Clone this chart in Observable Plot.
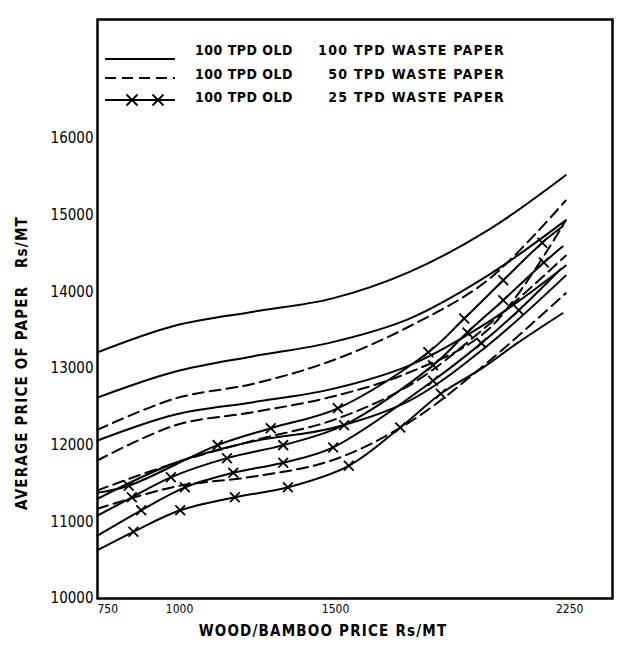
<!DOCTYPE html>
<html><head><meta charset="utf-8">
<script src="https://cdn.jsdelivr.net/npm/d3@7"></script>
<script src="https://cdn.jsdelivr.net/npm/@observablehq/plot@0.6"></script>
<style>
body{margin:0;background:#fff;}
#chart{position:relative;width:630px;height:648px;}
#legend{position:absolute;left:0;top:0;}
</style></head><body><div id="chart"></div>
<script>
const FONT = "'DejaVu Sans Condensed','DejaVu Sans',sans-serif";

// x positions shared by the solid and dashed curves (Rs/MT)
const xGrid = [750, 1000, 1250, 1500, 1750, 2000, 2250];

// solid curves: 100 TPD OLD + 100 TPD WASTE PAPER
const solidA = [13210, 13560, 13740, 13910, 14260, 14800, 15520];
const solidB = [12620, 12960, 13160, 13340, 13650, 14210, 14930];
const solidC = [12060, 12400, 12560, 12730, 13040, 13600, 14340];
const solidD = [11300, 11770, 12050, 12220, 12580, 13300, 14210];

// dashed curves: 100 TPD OLD + 50 TPD WASTE PAPER
const dashA = [12200, 12610, 12800, 13100, 13550, 14150, 15190];
const dashB = [11800, 12260, 12430, 12630, 12950, 13500, 14930];
const dashC = [11410, 11770, 12060, 12320, 12780, 13560, 14470];
const dashD = [11170, 11460, 11590, 11800, 12300, 13080, 13980];

// starred curves: 100 TPD OLD + 25 TPD WASTE PAPER (interior points carry the x markers)
const crossAX = [750, 850, 1135, 1305, 1520, 1810, 1925, 2050, 2175, 2240];
const crossAY = [11380, 11470, 12000, 12220, 12480, 13210, 13650, 14150, 14640, 14850];
const crossBX = [750, 860, 985, 1165, 1345, 1540, 1825, 1935, 2050, 2180, 2240];
const crossBY = [11080, 11320, 11580, 11830, 12000, 12260, 13040, 13470, 13890, 14380, 14590];
const crossCX = [750, 890, 1030, 1185, 1345, 1505, 1825, 1980, 2100, 2235];
const crossCY = [10820, 11150, 11450, 11640, 11770, 11970, 12840, 13330, 13760, 14300];
const crossDX = [750, 865, 1015, 1190, 1360, 1555, 1720, 1850, 1985, 2095, 2240];
const crossDY = [10630, 10870, 11150, 11320, 11450, 11730, 12230, 12670, 13010, 13330, 13720];
const crossDMarked = 7; // markers only on the first interior points of the lowest curve

const xTicks = [750, 1000, 1500, 2250];
const yTicks = [10000, 11000, 12000, 13000, 14000, 15000, 16000];

const legendCol1 = ["100 TPD OLD", "100 TPD OLD", "100 TPD OLD"];
const legendCol2 = ["100 TPD WASTE PAPER", "50 TPD WASTE PAPER", "25 TPD WASTE PAPER"];
const xTitle = "WOOD/BAMBOO PRICE Rs/MT";
const yTitle = "AVERAGE PRICE OF PAPER   Rs/MT";

const rows = (series, xs, ys) => xs.map((x, i) => ({series, x, y: ys[i]}));
const solidRows = [["A", solidA], ["B", solidB], ["C", solidC], ["D", solidD]].flatMap(([s, v]) => rows(s, xGrid, v));
const dashRows = [["A", dashA], ["B", dashB], ["C", dashC], ["D", dashD]].flatMap(([s, v]) => rows(s, xGrid, v));
const crossSets = [["A", crossAX, crossAY, crossAX.length - 2], ["B", crossBX, crossBY, crossBX.length - 2],
                   ["C", crossCX, crossCY, crossCX.length - 2], ["D", crossDX, crossDY, crossDMarked]];
const crossRows = crossSets.flatMap(([s, xs, ys]) => rows(s, xs, ys));
const markRows = crossSets.flatMap(([s, xs, ys, n]) => rows(s, xs, ys).slice(1, 1 + n));

const chart = Plot.plot({
  width: 630, height: 648,
  marginLeft: 97, marginRight: 18, marginTop: 19, marginBottom: 50,
  style: {fontFamily: FONT, background: "white", color: "black"},
  x: {domain: [750, 2400]},
  y: {domain: [10000, 17550]},
  marks: [
    Plot.line(solidRows, {x: "x", y: "y", z: "series", curve: "catmull-rom", stroke: "black", strokeWidth: 2}),
    Plot.line(dashRows, {x: "x", y: "y", z: "series", curve: "catmull-rom", stroke: "black", strokeWidth: 2, strokeDasharray: "11,6"}),
    Plot.line(crossRows, {x: "x", y: "y", z: "series", curve: "catmull-rom", stroke: "black", strokeWidth: 2}),
    Plot.dot(markRows, {x: "x", y: "y", symbol: "times", r: 4.5, stroke: "black", strokeWidth: 1.8}),
    Plot.frame({stroke: "black", strokeWidth: 2.5}),
    Plot.axisY({ticks: yTicks, tickSize: 0, tickPadding: 4, tickFormat: d3.format("d"), fontSize: 15, label: null}),
    Plot.axisX({ticks: xTicks.slice(0, 1), tickSize: 0, tickPadding: 6, tickFormat: d3.format("d"), textAnchor: "start", fontSize: 12, label: null}),
    Plot.axisX({ticks: xTicks.slice(1), tickSize: 0, tickPadding: 6, dx: 4, tickFormat: d3.format("d"), fontSize: 12, label: null}),
    Plot.text([xTitle], {text: d => d, frameAnchor: "bottom", textAnchor: "middle", dx: -32, dy: 37, fontSize: 15, fontWeight: "bold"}),
    Plot.text([yTitle], {text: d => d, frameAnchor: "left", textAnchor: "middle", rotate: -90, dx: -75, dy: 54, fontSize: 15, fontWeight: "bold"})
  ]
});
d3.select(chart).selectAll("text")
  .filter(function() { return this.textContent === xTitle || this.textContent === yTitle; })
  .style("letter-spacing", "1.2px");
document.getElementById("chart").appendChild(chart);

// legend drawn inside the frame, top-left
const leg = d3.select("#chart").append("svg").attr("id", "legend").attr("width", 630).attr("height", 120)
  .style("font-family", FONT);
const rowY = [50, 74, 97];
const sampleY = [59, 78, 100];
const dashes = [null, "11,6", null];
legendCol1.forEach((t, i) => {
  leg.append("line").attr("x1", 105).attr("x2", 175).attr("y1", sampleY[i]).attr("y2", sampleY[i])
    .attr("stroke", "black").attr("stroke-width", 2).attr("stroke-dasharray", dashes[i]);
  leg.append("text").attr("x", 195).attr("y", rowY[i]).attr("dy", "0.35em").attr("font-size", 14)
    .attr("font-weight", "bold").attr("letter-spacing", "0.5px").text(t);
  leg.append("text").attr("x", 505).attr("y", rowY[i]).attr("dy", "0.35em").attr("font-size", 14)
    .attr("font-weight", "bold").attr("letter-spacing", "1.3px").attr("text-anchor", "end").text(legendCol2[i]);
});
[132, 158].forEach(cx => {
  leg.append("path").attr("d", d3.symbol(d3.symbolTimes, 81)()).attr("transform", `translate(${cx},${sampleY[2]})`)
    .attr("fill", "none").attr("stroke", "black").attr("stroke-width", 1.8);
});
</script></body></html>
